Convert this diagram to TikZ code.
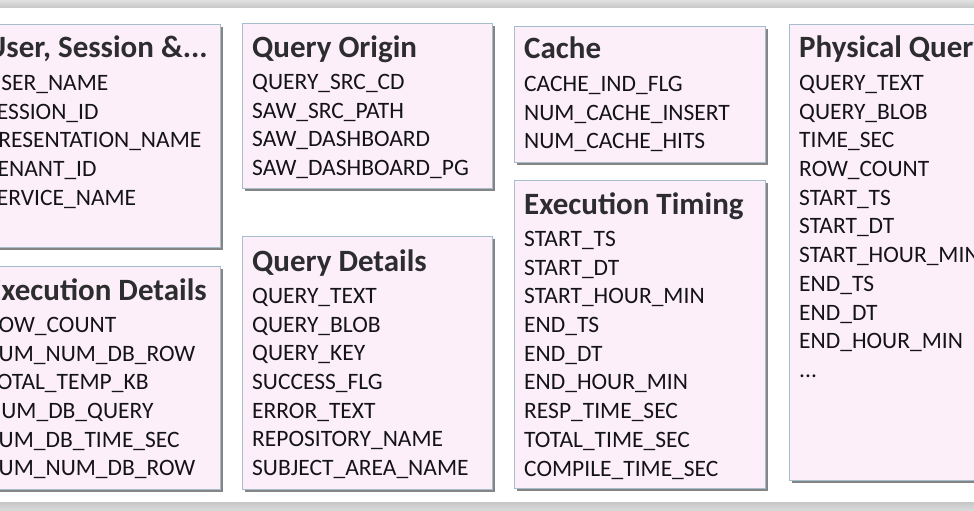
\documentclass[tikz,border=0pt]{standalone}
\usepackage{fontspec}
\setmainfont{Carlito}
\usetikzlibrary{positioning,shadows}
\definecolor{boxfill}{RGB}{253,239,250}
\definecolor{boxline}{RGB}{166,190,204}
\definecolor{titlegray}{RGB}{45,45,48}
\definecolor{fieldtext}{RGB}{20,20,24}
\tikzset{
tablebox/.style = {draw=boxline, fill=boxfill, rectangle, anchor=north west, inner sep=0pt,
  drop shadow={shadow xshift=3pt, shadow yshift=-3pt, fill=black!60, opacity=.8}},
boxtitle/.style = {anchor=base west, inner sep=0pt, font=\fontsize{31}{33}\selectfont\bfseries, text=titlegray},
fieldlist/.style = {anchor=north west, align=left, inner sep=0pt, font=\fontsize{23.5}{28.7}\selectfont, text=fieldtext}
}

\begin{document}
\begin{tikzpicture}[x=1pt, y=-1pt]
  \useasboundingbox (0,0) rectangle (974,511);
  \clip (0,0) rectangle (974,511);
  % top and bottom rims
  \shade [top color=black!12, bottom color=black!22] (0,0) rectangle (974,8);
  \shade [top color=black!22, bottom color=black!14] (0,502) rectangle (974,511);

  % boxes
  \node [tablebox, minimum width=244pt, minimum height=223pt] (user)     at (-24,24)  {};
  \node [tablebox, minimum width=244pt, minimum height=223pt] (execd)    at (-24,266) {};
  \node [tablebox, minimum width=250pt, minimum height=165pt] (origin)   at (242,23)  {};
  \node [tablebox, minimum width=250pt, minimum height=253pt] (qdetails) at (242,236) {};
  \node [tablebox, minimum width=251pt, minimum height=136pt] (cache)    at (514,26)  {};
  \node [tablebox, minimum width=251pt, minimum height=308pt] (timing)   at (514,180) {};
  \node [tablebox, minimum width=251pt, minimum height=456pt] (physical) at (789,24)  {};

  % titles
  \node [boxtitle] (usert)     at ([shift={(10,34)}]user.north west)     {User, Session \&...};
  \node [boxtitle] (execdt)    at ([shift={(10,34)}]execd.north west)    {Execution Details};
  \node [boxtitle] (origint)   at ([shift={(10,34)}]origin.north west)   {Query Origin};
  \node [boxtitle] (qdetailst) at ([shift={(10,35)}]qdetails.north west) {Query Details};
  \node [boxtitle] (cachet)    at ([shift={(10,33)}]cache.north west)    {Cache};
  \node [boxtitle] (timingt)   at ([shift={(10,34)}]timing.north west)   {Execution Timing};
  \node [boxtitle] (physicalt) at ([shift={(10,34)}]physical.north west) {Physical Query};

  % field lists
  \node [fieldlist] (userf) at ([shift={(0,17)}]usert.base west)
    {USER\_NAME\\SESSION\_ID\\PRESENTATION\_NAME\\TENANT\_ID\\SERVICE\_NAME};
  \node [fieldlist] (execdf) at ([shift={(0,17)}]execdt.base west)
    {ROW\_COUNT\\CUM\_NUM\_DB\_ROW\\TOTAL\_TEMP\_KB\\NUM\_DB\_QUERY\\CUM\_DB\_TIME\_SEC\\CUM\_NUM\_DB\_ROW};
  \node [fieldlist] (originf) at ([shift={(0,17)}]origint.base west)
    {QUERY\_SRC\_CD\\SAW\_SRC\_PATH\\SAW\_DASHBOARD\\SAW\_DASHBOARD\_PG};
  \node [fieldlist] (qdetailsf) at ([shift={(0,17)}]qdetailst.base west)
    {QUERY\_TEXT\\QUERY\_BLOB\\QUERY\_KEY\\SUCCESS\_FLG\\ERROR\_TEXT\\REPOSITORY\_NAME\\SUBJECT\_AREA\_NAME};
  \node [fieldlist] (cachef) at ([shift={(0,17)}]cachet.base west)
    {CACHE\_IND\_FLG\\NUM\_CACHE\_INSERT\\NUM\_CACHE\_HITS};
  \node [fieldlist] (timingf) at ([shift={(0,17)}]timingt.base west)
    {START\_TS\\START\_DT\\START\_HOUR\_MIN\\END\_TS\\END\_DT\\END\_HOUR\_MIN\\RESP\_TIME\_SEC\\TOTAL\_TIME\_SEC\\COMPILE\_TIME\_SEC};
  \node [fieldlist] (physicalf) at ([shift={(0,17)}]physicalt.base west)
    {QUERY\_TEXT\\QUERY\_BLOB\\TIME\_SEC\\ROW\_COUNT\\START\_TS\\START\_DT\\START\_HOUR\_MIN\\END\_TS\\END\_DT\\END\_HOUR\_MIN\\...};
\end{tikzpicture}
\end{document}
